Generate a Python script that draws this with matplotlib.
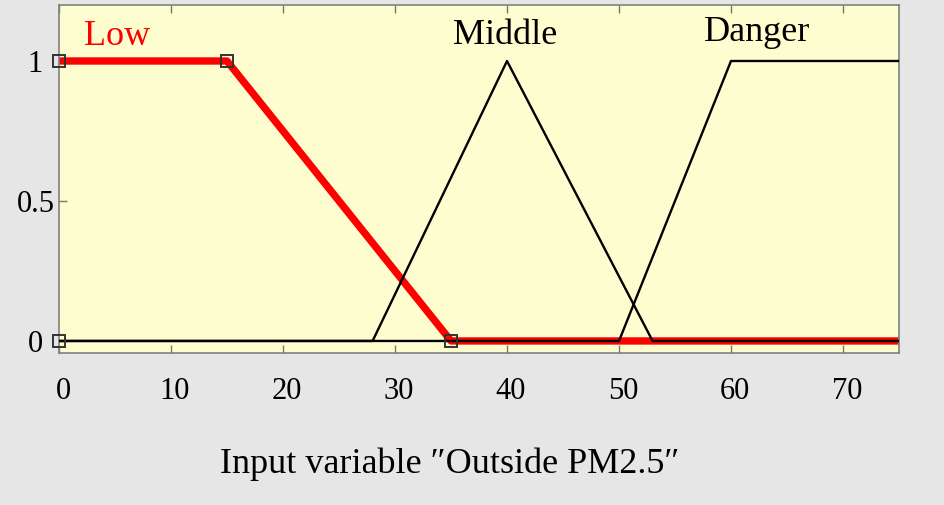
import numpy as np
import matplotlib.pyplot as plt
import matplotlib.transforms as mtransforms

plt.rcParams["font.family"] = ["Liberation Serif", "DejaVu Serif"]

# membership function break points (Outside PM2.5)
low_x = [0, 15, 35, 75]
low_y = [1, 1, 0, 0]
middle_x = [0, 28, 40, 53, 75]
middle_y = [0, 0, 1, 0, 0]
danger_x = [0, 50, 60, 75]
danger_y = [0, 0, 1, 1]
marker_x = [0, 0, 15, 35]
marker_y = [0, 1, 1, 0]

mf_names = ["Low", "Middle", "Danger"]
label_x = [5.2, 39.8, 62.3]
label_y = [1.057, 1.061, 1.071]
label_colors = ["red", "black", "black"]

xticks = [0, 10, 20, 30, 40, 50, 60, 70]
yticks = [0, 0.5, 1]
ytick_labels = ["0", "0.5", "1"]

fig = plt.figure(figsize=(9.44, 5.05), dpi=100, facecolor="#e6e6e6")
ax = fig.add_axes([59 / 944, 1 - 353 / 505, 840 / 944, 348 / 505])
ax.set_facecolor("#fefdcf")

ax.plot(low_x, low_y, color="red", linewidth=5.3, solid_capstyle="butt", zorder=2)
ax.plot(middle_x, middle_y, color="black", linewidth=1.7, zorder=3)
ax.plot(danger_x, danger_y, color="black", linewidth=1.7, zorder=3)
ax.plot(marker_x, marker_y, linestyle="none", marker="s", markersize=8.5,
        markerfacecolor="none", markeredgecolor="#333333", markeredgewidth=1.4,
        zorder=4, clip_on=False)

for name, lx, ly, c in zip(mf_names, label_x, label_y, label_colors):
    ax.text(lx, ly, name, color=c, fontsize=26, ha="center", va="baseline")

ax.set_xlim(0, 75)
ax.set_ylim(-0.043, 1.2)
ax.set_xticks(xticks)
ax.set_xticklabels([str(t) for t in xticks])
ax.set_yticks(yticks)
ax.set_yticklabels(ytick_labels, ha="center")
ax.tick_params(axis="x", direction="in", top=True, length=6, width=1,
               color="#777777", labelsize=22, pad=17)
ax.tick_params(axis="y", direction="in", length=6, width=1,
               color="#777777", labelsize=22, pad=17)
shift = mtransforms.ScaledTranslation(4 / 100, 0, fig.dpi_scale_trans)
for lab in ax.get_xticklabels():
    lab.set_transform(lab.get_transform() + shift)
for s in ax.spines.values():
    s.set_color("#808080")
    s.set_linewidth(1.2)

fig.text(450 / 944, 1 - 473 / 505, "Input variable \u2033Outside PM2.5\u2033",
         fontsize=26, ha="center", va="baseline")

fig.savefig("out.png", dpi=100, facecolor=fig.get_facecolor())
